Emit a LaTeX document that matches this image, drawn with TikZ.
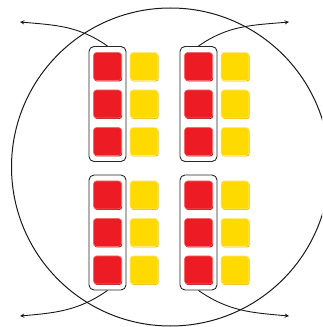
\documentclass[tikz,border=0pt]{standalone}
\usetikzlibrary{shadows}

\definecolor{cellred}{HTML}{ED1C24}
\definecolor{cellreddark}{HTML}{A3141B}
\definecolor{cellredlight}{HTML}{F36A6E}
\definecolor{cellyel}{HTML}{FFDA00}
\definecolor{cellyeldark}{HTML}{E9B400}
\definecolor{cellyellight}{HTML}{FFEA7A}

\begin{document}
\begin{tikzpicture}[x=1pt, y=1pt, >=stealth,
		redcell/.style={rounded corners=3pt, fill=cellred, draw=cellredlight, line width=0.6pt,
			minimum size=28pt, inner sep=0pt,
			drop shadow={shadow xshift=0.7pt, shadow yshift=-1pt, fill=cellreddark, opacity=1}},
		yelcell/.style={rounded corners=3pt, fill=cellyel, draw=cellyellight, line width=0.6pt,
			minimum size=28pt, inner sep=0pt,
			drop shadow={shadow xshift=0.7pt, shadow yshift=-1pt, fill=cellyeldark, opacity=1}},
		pairbox/.style={draw=black!85, rounded corners=5pt, line width=0.9pt, minimum width=37pt,
			minimum height=115pt, inner sep=0pt},
		link/.style={->, line width=0.9pt, black!90}]
	
	\useasboundingbox (0,0) rectangle (322,327);
	
	% --- 1. 外圆 ---
	\begin{scope}
		\clip (0,0) rectangle (322,327);
		\draw[line width=1pt, black!90] (170.5,160) circle (159);
	\end{scope}
	
	% --- 2. 方块 ---
	\foreach \g/\x/\y in {TL/107.5/223, TR/198.5/223, BL/107.5/94.5, BR/198.5/94.5} {
		\foreach \k/\dy in {1/37.5, 2/0, 3/-37.5} {
			\node[redcell] (red\g\k) at (\x, \y+\dy) {};
			\node[yelcell] (yel\g\k) at (\x+36.5, \y+\dy) {};
		}
	}
	
	% --- 3. 红色外框 ---
	\node[pairbox] (boxTL) at (107.5,223) {};
	\node[pairbox] (boxTR) at (198.5,223) {};
	\node[pairbox] (boxBL) at (107.5,94.5) {};
	\node[pairbox] (boxBR) at (198.5,94.5) {};
	
	% --- 4. 箭头 ---
	\coordinate (tipTL) at (20,305);
	\coordinate (tipTR) at (289,305);
	\coordinate (tipBL) at (20,11);
	\coordinate (tipBR) at (289,11);
	
	\draw[link] (boxTL.north) to[out=145, in=-5] (tipTL);
	\draw[link] (boxTR.north) to[out=35, in=185] (tipTR);
	\draw[link] (boxBL.south) to[out=-145, in=5] (tipBL);
	\draw[link] (boxBR.south) to[out=-35, in=175] (tipBR);
	
\end{tikzpicture}
\end{document}
